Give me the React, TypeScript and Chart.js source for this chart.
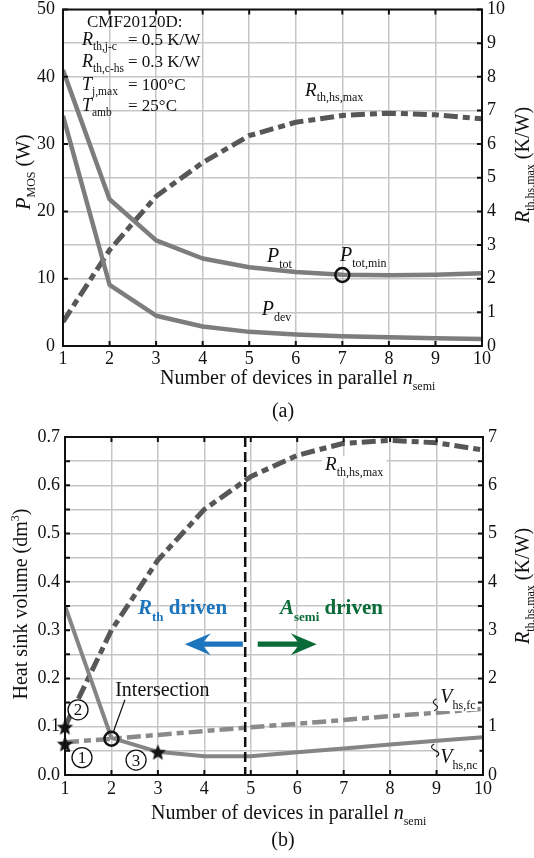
import React, { useEffect, useRef } from "react";
import { Chart, registerables } from "chart.js";

Chart.register(...registerables);

// ---------- data ----------
const nSemi = [1, 2, 3, 4, 5, 6, 7, 8, 9, 10];

// panel (a)
const pTot = [41.0, 21.8, 15.7, 13.0, 11.7, 11.0, 10.6, 10.5, 10.6, 10.8];
const pDev = [34.2, 9.1, 4.5, 2.9, 2.1, 1.7, 1.45, 1.3, 1.15, 1.05];
const rThHsMaxA = [0.72, 2.85, 4.45, 5.45, 6.25, 6.65, 6.85, 6.92, 6.87, 6.75];
const pTotMin = [{ x: 7, y: 10.55 }];
const aLeftTicks = [0, 10, 20, 30, 40, 50];
const aRightTicks = [0, 1, 2, 3, 4, 5, 6, 7, 8, 9, 10];

// panel (b)
const vHsNc = [0.35, 0.077, 0.048, 0.039, 0.039, 0.047, 0.055, 0.063, 0.071, 0.078];
const vHsFc = [0.068, 0.075, 0.083, 0.091, 0.099, 0.106, 0.114, 0.122, 0.129, 0.137];
const rThHsMaxB = [1.0, 3.0, 4.45, 5.5, 6.18, 6.62, 6.87, 6.93, 6.88, 6.73];
const starMarks = [{ x: 1, y: 0.1 }, { x: 1, y: 0.065 }, { x: 3, y: 0.048 }];
const intersectionMark = [{ x: 2, y: 0.075 }];
const boundaryN = 4.88;
const bLeftTicks = [0, 0.05, 0.1, 0.15, 0.2, 0.25, 0.3, 0.35, 0.4, 0.45, 0.5, 0.55, 0.6, 0.65, 0.7];
const bRightTicks = [0, 0.5, 1, 1.5, 2, 2.5, 3, 3.5, 4, 4.5, 5, 5.5, 6, 6.5, 7];

// ---------- helpers ----------
const FAM = '"Liberation Serif", "Times New Roman", serif';
const f = (size: number, style = "") => `${style} ${size}px ${FAM}`.trim();
const GRID = "#c6c6c6";
const INK = "#111";

type Seg = [string, string, number?];
function rich(ctx: CanvasRenderingContext2D, x: number, y: number, segs: Seg[], align: "left" | "center" = "left", color = INK) {
  let w = 0;
  for (const s of segs) { ctx.font = s[1]; w += ctx.measureText(s[0]).width; }
  let cx = align === "center" ? x - w / 2 : x;
  ctx.fillStyle = color;
  ctx.textAlign = "left";
  ctx.textBaseline = "alphabetic";
  for (const s of segs) {
    ctx.font = s[1];
    ctx.fillText(s[0], cx, y + (s[2] || 0));
    cx += ctx.measureText(s[0]).width;
  }
  return w;
}

function richRot(ctx: CanvasRenderingContext2D, cx: number, cy: number, segs: Seg[]) {
  ctx.save();
  ctx.translate(cx, cy);
  ctx.rotate(-Math.PI / 2);
  rich(ctx, 0, 0, segs, "center");
  ctx.restore();
}

function frameAndTicks(ctx: CanvasRenderingContext2D, ca: any, sx: any, sl: any, sr: any) {
  ctx.save();
  ctx.setLineDash([]);
  ctx.strokeStyle = INK;
  ctx.lineWidth = 2;
  ctx.strokeRect(ca.left, ca.top, ca.right - ca.left, ca.bottom - ca.top);
  const L = 5;
  ctx.beginPath();
  for (const t of sx.ticks) {
    const p = sx.getPixelForValue(t.value);
    ctx.moveTo(p, ca.bottom); ctx.lineTo(p, ca.bottom - L);
    ctx.moveTo(p, ca.top); ctx.lineTo(p, ca.top + L);
  }
  for (const t of sl.ticks) {
    const p = sl.getPixelForValue(t.value);
    ctx.moveTo(ca.left, p); ctx.lineTo(ca.left + L, p);
  }
  for (const t of sr.ticks) {
    const p = sr.getPixelForValue(t.value);
    ctx.moveTo(ca.right, p); ctx.lineTo(ca.right - L, p);
  }
  ctx.stroke();
  ctx.restore();
}

function arrow(ctx: CanvasRenderingContext2D, x0: number, x1: number, y: number, color: string) {
  const dir = Math.sign(x1 - x0);
  const headL = 26, headH = 11, shaft = 2.6, notch = 7;
  const hb = x1 - dir * headL;
  const nb = x1 - dir * (headL - notch);
  ctx.save();
  ctx.fillStyle = color;
  ctx.beginPath();
  ctx.moveTo(x1, y);
  ctx.lineTo(hb, y - headH);
  ctx.lineTo(nb, y - shaft);
  ctx.lineTo(x0, y - shaft);
  ctx.lineTo(x0, y + shaft);
  ctx.lineTo(nb, y + shaft);
  ctx.lineTo(hb, y + headH);
  ctx.closePath();
  ctx.fill();
  ctx.restore();
}

function squiggle(ctx: CanvasRenderingContext2D, x0: number, y0: number, x1: number, y1: number) {
  const mx = (x0 + x1) / 2, my = (y0 + y1) / 2;
  ctx.save();
  ctx.strokeStyle = INK;
  ctx.lineWidth = 1.1;
  ctx.beginPath();
  ctx.moveTo(x0, y0);
  ctx.quadraticCurveTo(x0 - 6, (y0 + my) / 2, mx, my);
  ctx.quadraticCurveTo(x1 + 6, (my + y1) / 2, x1, y1);
  ctx.stroke();
  ctx.restore();
}

function circledNum(ctx: CanvasRenderingContext2D, x: number, y: number, s: string) {
  ctx.save();
  ctx.beginPath();
  ctx.arc(x, y, 10, 0, Math.PI * 2);
  ctx.fillStyle = "#fff";
  ctx.fill();
  ctx.lineWidth = 1.3;
  ctx.strokeStyle = INK;
  ctx.stroke();
  ctx.font = f(17);
  ctx.fillStyle = INK;
  ctx.textAlign = "center";
  ctx.textBaseline = "middle";
  ctx.fillText(s, x, y + 1);
  ctx.restore();
}

function makeStar(r: number) {
  const c = document.createElement("canvas");
  const s = Math.ceil(r * 2 + 2);
  c.width = s; c.height = s;
  const g = c.getContext("2d")!;
  g.beginPath();
  for (let i = 0; i < 10; i++) {
    const rad = i % 2 === 0 ? r : r * 0.45;
    const a = -Math.PI / 2 + (i * Math.PI) / 5;
    const px = s / 2 + rad * Math.cos(a), py = s / 2 + 1 + rad * Math.sin(a);
    if (i === 0) g.moveTo(px, py); else g.lineTo(px, py);
  }
  g.closePath();
  g.fillStyle = "#141414";
  g.fill();
  return c;
}

const xy = (ys: number[]) => nSemi.map((n, i) => ({ x: n, y: ys[i] }));
const ticksFrom = (vals: number[]) => (s: any) => { s.ticks = vals.map((v) => ({ value: v })); };

// ---------- plugins ----------
const plugA = {
  id: "panelA",
  afterDraw(chart: any) {
    const { ctx, chartArea: ca, scales } = chart;
    const sx = scales.x, sy = scales.y, sy1 = scales.y1;
    const X = (v: number) => sx.getPixelForValue(v);
    const Y = (v: number) => sy.getPixelForValue(v);
    frameAndTicks(ctx, ca, sx, sy, sy1);
    ctx.save();
    // parameter block
    rich(ctx, ca.left + 24, ca.top + 17, [["CMF20120D:", f(17)]]);
    const rows: [string, string, string, number][] = [
      ["R", "th,j-c", "= 0.5 K/W", 35],
      ["R", "th,c-hs", "= 0.3 K/W", 57],
      ["T", "j,max", "= 100°C", 80],
      ["T", "amb", "= 25°C", 101],
    ];
    for (const [v, s, rhs, dy] of rows) {
      rich(ctx, ca.left + 19, ca.top + dy, [[v, f(18, "italic")], [s, f(11.5), 5]]);
      rich(ctx, ca.left + 65, ca.top + dy, [[rhs, f(17)]]);
    }
    // curve labels
    rich(ctx, X(6.2), Y(37.2), [["R", f(19, "italic")], ["th,hs,max", f(12), 5]]);
    rich(ctx, X(5.38), Y(12.5), [["P", f(20, "italic")], ["tot", f(12), 6]]);
    rich(ctx, X(6.95), Y(12.6), [["P", f(20, "italic")], ["tot,min", f(12), 6]]);
    rich(ctx, X(5.27), Y(4.6), [["P", f(20, "italic")], ["dev", f(12), 6]]);
    // axis titles
    rich(ctx, 160, 384, [["Number of devices in parallel ", f(20)], ["n", f(20, "italic")], ["semi", f(12), 6]]);
    rich(ctx, 283, 417, [["(a)", f(20)]], "center");
    richRot(ctx, 30, 172, [["P", f(20, "italic")], ["MOS", f(12), 5], [" (W)", f(20)]]);
    richRot(ctx, 529, 165, [["R", f(20, "italic")], ["th,hs,max", f(12), 5], [" (K/W)", f(20)]]);
    ctx.restore();
  },
};

const plugB = {
  id: "panelB",
  afterDraw(chart: any) {
    const { ctx, chartArea: ca, scales } = chart;
    const sx = scales.x, sy = scales.y, sy1 = scales.y1;
    const X = (v: number) => sx.getPixelForValue(v);
    const Y = (v: number) => sy.getPixelForValue(v);
    ctx.save();
    // boundary
    ctx.strokeStyle = INK;
    ctx.lineWidth = 2.5;
    ctx.setLineDash([10, 5]);
    ctx.beginPath();
    ctx.moveTo(X(boundaryN), ca.top);
    ctx.lineTo(X(boundaryN), ca.bottom);
    ctx.stroke();
    ctx.setLineDash([]);
    ctx.restore();
    frameAndTicks(ctx, ca, sx, sy, sy1);
    ctx.save();
    // R label with white box
    {
      const x0 = X(6.6), y0 = Y(0.631);
      ctx.font = f(19, "italic");
      const w1 = ctx.measureText("R").width;
      ctx.font = f(12);
      const w2 = ctx.measureText("th,hs,max").width;
      ctx.fillStyle = "#fff";
      ctx.fillRect(x0 - 3, y0 - 14, w1 + w2 + 6, 22);
      rich(ctx, x0, y0, [["R", f(19, "italic")], ["th,hs,max", f(12), 6]]);
    }
    // driven labels
    const BLUE = "#1d76bd", GREEN = "#0b6b38";
    rich(ctx, X(2.57), Y(0.333), [["R", f(21, "bold italic")], ["th", f(13, "bold"), 7], [" driven", f(21, "bold")]], "left", BLUE);
    rich(ctx, X(5.63), Y(0.333), [["A", f(21, "bold italic")], ["semi", f(13, "bold"), 7], [" driven", f(21, "bold")]], "left", GREEN);
    arrow(ctx, X(4.83), X(3.58), Y(0.271), BLUE);
    arrow(ctx, X(5.15), X(6.42), Y(0.271), GREEN);
    // intersection
    rich(ctx, X(2.08), Y(0.1636), [["Intersection", f(20)]]);
    ctx.strokeStyle = INK;
    ctx.lineWidth = 1.2;
    ctx.beginPath();
    ctx.moveTo(X(2.29), Y(0.156));
    ctx.lineTo(X(2.04), Y(0.089));
    ctx.stroke();
    circledNum(ctx, X(1.28), Y(0.135), "2");
    circledNum(ctx, X(1.366), Y(0.036), "1");
    circledNum(ctx, X(2.53), Y(0.031), "3");
    // V labels
    {
      const lab = (x0: number, y0: number, sub: string) => {
        ctx.font = f(20, "italic");
        const w1 = ctx.measureText("V").width;
        ctx.font = f(12);
        const w2 = ctx.measureText(sub).width;
        ctx.fillStyle = "#fff";
        ctx.fillRect(x0 - 2, y0 - 15, w1 + w2 + 4, 23);
        rich(ctx, x0, y0, [["V", f(20, "italic")], [sub, f(12), 6]]);
      };
      lab(X(9.08), Y(0.149), "hs,fc");
      lab(X(9.08), Y(0.025), "hs,nc");
      squiggle(ctx, X(9.0), Y(0.158), X(8.95), Y(0.133));
      squiggle(ctx, X(8.95), Y(0.064), X(8.99), Y(0.038));
    }
    // titles
    rich(ctx, 151, 399, [["Number of devices in parallel ", f(20)], ["n", f(20, "italic")], ["semi", f(12), 6]]);
    rich(ctx, 283, 426, [["(b)", f(20)]], "center");
    richRot(ctx, 27, 184, [["Heat sink volume (dm", f(20)], ["3", f(12), -8], [")", f(20)]]);
    richRot(ctx, 529, 166, [["R", f(20, "italic")], ["th,hs,max", f(12), 5], [" (K/W)", f(20)]]);
    ctx.restore();
  },
};

const tickFont = { family: FAM, size: 18 };

function baseScales(o: {
  leftW: number; rightW: number; bottomH: number; xPad: number; lPad: number; rPad: number;
  lMax: number; rMax: number; lTicks: number[]; rTicks: number[]; lGrid: boolean; lLabel: (v: number) => string; rLabel: (v: number) => string;
}) {
  return {
    x: {
      type: "linear", min: 1, max: 10,
      afterBuildTicks: ticksFrom(nSemi),
      grid: { color: GRID, lineWidth: 1.5, drawTicks: false },
      border: { display: false },
      ticks: { color: INK, font: tickFont, padding: o.xPad, autoSkip: false, maxRotation: 0, callback: (v: number) => String(v) },
      afterFit: (s: any) => { s.height = o.bottomH; s.paddingLeft = 0; s.paddingRight = 0; },
    },
    y: {
      type: "linear", position: "left", min: 0, max: o.lMax,
      afterBuildTicks: ticksFrom(o.lTicks),
      grid: { display: o.lGrid, color: GRID, lineWidth: 1.5, drawTicks: false },
      border: { display: false },
      ticks: { color: INK, font: tickFont, padding: o.lPad, autoSkip: false, callback: o.lLabel },
      afterFit: (s: any) => { s.width = o.leftW; s.paddingTop = 0; s.paddingBottom = 0; },
    },
    y1: {
      type: "linear", position: "right", min: 0, max: o.rMax,
      afterBuildTicks: ticksFrom(o.rTicks),
      grid: { display: !o.lGrid, color: GRID, lineWidth: 1.5, drawTicks: false },
      border: { display: false },
      ticks: { color: INK, font: tickFont, padding: o.rPad, autoSkip: false, callback: o.rLabel },
      afterFit: (s: any) => { s.width = o.rightW; s.paddingTop = 0; s.paddingBottom = 0; },
    },
  };
}

const DASH = [14, 5, 7, 5];

export default function App() {
  const refA = useRef<HTMLCanvasElement>(null);
  const refB = useRef<HTMLCanvasElement>(null);

  useEffect(() => {
    const star = makeStar(8.5);
    const chartA = new Chart(refA.current!, {
      type: "line",
      data: {
        datasets: [
          { data: pTotMin, yAxisID: "y", showLine: false, pointStyle: "circle", pointRadius: 7, pointBorderWidth: 2.5, pointBorderColor: INK, pointBackgroundColor: "rgba(0,0,0,0)", clip: false } as any,
          { data: xy(pTot), yAxisID: "y", borderColor: "#7d7d7d", borderWidth: 4.5, pointRadius: 0, tension: 0, borderJoinStyle: "round" },
          { data: xy(pDev), yAxisID: "y", borderColor: "#7d7d7d", borderWidth: 4.5, pointRadius: 0, tension: 0, borderJoinStyle: "round" },
          { data: xy(rThHsMaxA), yAxisID: "y1", borderColor: "#575757", borderWidth: 5, borderDash: DASH, pointRadius: 0, tension: 0 },
        ],
      },
      options: {
        responsive: false,
        animation: false,
        layout: { padding: { top: 9, left: 0, right: 0, bottom: 0 } },
        plugins: { legend: { display: false }, tooltip: { enabled: false } },
        scales: baseScales({
          leftW: 63, rightW: 52, bottomH: 84, xPad: 2, lPad: 8, rPad: 5,
          lMax: 50, rMax: 10, lTicks: aLeftTicks, rTicks: aRightTicks, lGrid: false,
          lLabel: (v: number) => String(v), rLabel: (v: number) => String(v),
        }) as any,
      },
      plugins: [plugA],
    });

    const chartB = new Chart(refB.current!, {
      type: "line",
      data: {
        datasets: [
          { data: starMarks, yAxisID: "y", showLine: false, pointStyle: star, pointRadius: 8, clip: false } as any,
          { data: intersectionMark, yAxisID: "y", showLine: false, pointStyle: "circle", pointRadius: 7, pointBorderWidth: 2.5, pointBorderColor: INK, pointBackgroundColor: "rgba(0,0,0,0)", clip: false } as any,
          { data: xy(vHsNc), yAxisID: "y", borderColor: "#858585", borderWidth: 4, pointRadius: 0, tension: 0, borderJoinStyle: "round" },
          { data: xy(vHsFc), yAxisID: "y", borderColor: "#8a8a8a", borderWidth: 4.5, borderDash: DASH, pointRadius: 0, tension: 0 },
          { data: xy(rThHsMaxB), yAxisID: "y1", borderColor: "#575757", borderWidth: 5, borderDash: DASH, pointRadius: 0, tension: 0 },
        ],
      },
      options: {
        responsive: false,
        animation: false,
        layout: { padding: { top: 17, left: 0, right: 0, bottom: 0 } },
        plugins: { legend: { display: false }, tooltip: { enabled: false } },
        scales: baseScales({
          leftW: 65, rightW: 51, bottomH: 83, xPad: 3, lPad: 5, rPad: 5,
          lMax: 0.7, rMax: 7, lTicks: bLeftTicks, rTicks: bRightTicks, lGrid: true,
          lLabel: (v: number) => (Math.round(v * 20) % 2 === 0 ? v.toFixed(1) : ""),
          rLabel: (v: number) => (Number.isInteger(v) ? String(v) : ""),
        }) as any,
      },
      plugins: [plugB],
    });

    return () => { chartA.destroy(); chartB.destroy(); };
  }, []);

  return (
    <div style={{ position: "absolute", left: 0, top: 0, width: 534, height: 858, background: "#fff", overflow: "hidden" }}>
      <canvas ref={refA} width={534} height={430} style={{ position: "absolute", left: 0, top: 0, display: "block" }} />
      <canvas ref={refB} width={534} height={438} style={{ position: "absolute", left: 0, top: 420, display: "block" }} />
    </div>
  );
}
